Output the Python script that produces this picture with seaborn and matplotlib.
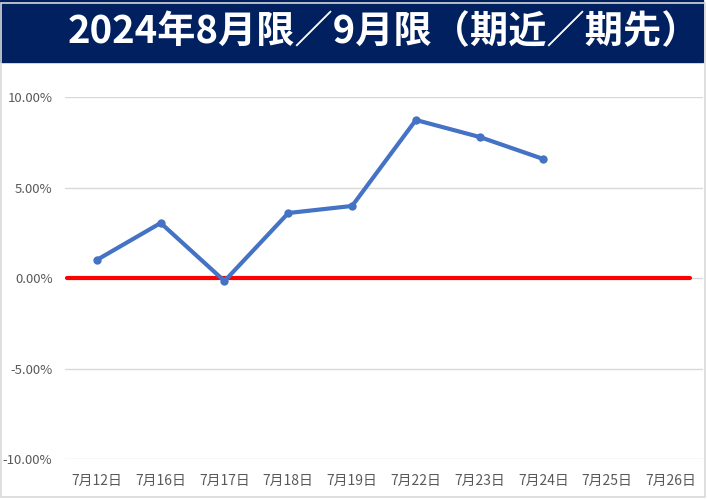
import numpy as np
import pandas as pd
import matplotlib
matplotlib.use('Agg')
import matplotlib.pyplot as plt
import seaborn as sns
from matplotlib.patches import Rectangle
from matplotlib.ticker import FuncFormatter

dates = ['7月12日', '7月16日', '7月17日', '7月18日', '7月19日',
         '7月22日', '7月23日', '7月24日', '7月25日', '7月26日']
spread = [1.00, 3.04, -0.17, 3.59, 3.98, 8.73, 7.79, 6.57, np.nan, np.nan]
title = '2024年8月限／9月限（期近／期先）'

sns.set_theme(style='white')
plt.rcParams['font.family'] = ['Noto Sans CJK JP', 'DejaVu Sans']

df = pd.DataFrame({'pos': range(len(dates)), 'spread': spread})

fig = plt.figure(figsize=(7.07, 4.99), dpi=100)
ax = fig.add_axes([65 / 707, 40 / 499, 638 / 707, 362 / 499])

ax.axhline(0, xmin=0.003, xmax=0.98, color='#ff0000', lw=3, zorder=3)
sns.lineplot(data=df, x='pos', y='spread', ax=ax, color='#4472c4', lw=3,
             marker='o', markersize=6, markeredgewidth=0, zorder=4)

ax.set_xlim(-0.5, len(dates) - 0.5)
ax.set_ylim(-10, 10)
ax.set_yticks([-10, -5, 0, 5, 10])
ax.yaxis.set_major_formatter(FuncFormatter(lambda v, p: f'{v:.2f}%'))
ax.set_xticks(range(len(dates)))
ax.set_xticklabels(dates)
ax.tick_params(axis='y', labelsize=9.5, colors='#595959', length=0, pad=9)
ax.tick_params(axis='x', labelsize=10, colors='#595959', length=0, pad=11)
ax.grid(axis='y', color='#d9d9d9', lw=1)
ax.set_xlabel('')
ax.set_ylabel('')
for s in ax.spines.values():
    s.set_visible(False)

# title band
fig.patches.append(Rectangle((0, 437 / 499), 703 / 707, 62 / 499,
                             transform=fig.transFigure, color='#002060', zorder=0))
fig.text(68 / 707, 467 / 499, title, color='white', fontsize=27.5,
         fontweight='bold', va='center', ha='left')
# outer border
fig.patches.append(Rectangle((0.001, 0.004), 0.996, 0.99, transform=fig.transFigure,
                             fill=False, edgecolor='#d9d9d9', lw=1.2))

plt.savefig('out.png', dpi=100)
